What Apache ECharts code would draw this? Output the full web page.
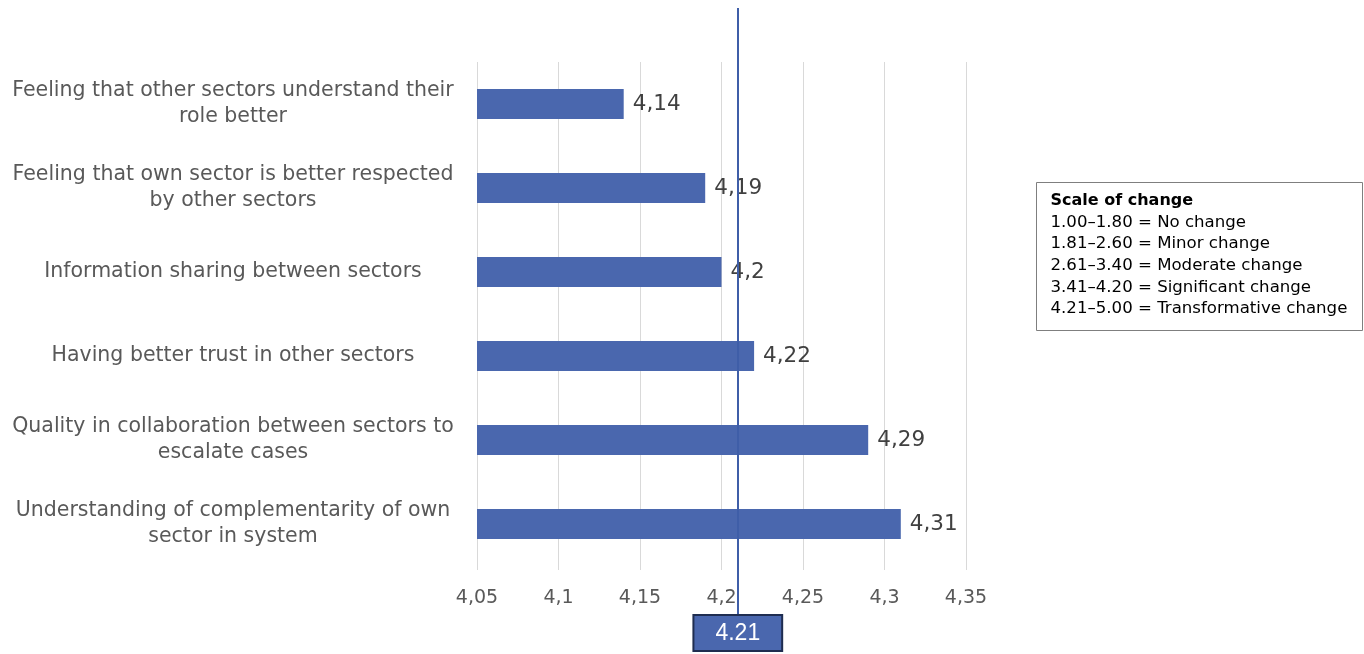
<!DOCTYPE html>
<html>
<head>
<meta charset="utf-8">
<script src="https://cdn.jsdelivr.net/npm/echarts@6/dist/echarts.min.js"></script>
<style>
  html, body { margin: 0; padding: 0; background: #fff; }
  #chart { width: 1364px; height: 654px; }
</style>
</head>
<body>
<div id="chart"></div>
<script>
const categories = [
  'Feeling that other sectors understand their\nrole better',
  'Feeling that own sector is better respected\nby other sectors',
  'Information sharing between sectors',
  'Having better trust in other sectors',
  'Quality in collaboration between sectors to\nescalate cases',
  'Understanding of complementarity of own\nsector in system'
];
const scores = [4.14, 4.19, 4.2, 4.22, 4.29, 4.31];
const overallMean = 4.21;
const axisMin = 4.05;
const axisMax = 4.35;
const axisStep = 0.05;
const scaleTitle = 'Scale of change';
const scaleLines = [
  '1.00–1.80 = No change',
  '1.81–2.60 = Minor change',
  '2.61–3.40 = Moderate change',
  '3.41–4.20 = Significant change',
  '4.21–5.00 = Transformative change'
];

const FONT = 'DejaVu Sans';
const commaNum = v => String(+(+v).toFixed(2)).replace('.', ',');

const chart = echarts.init(document.getElementById('chart'));

const option = {
  animation: false,
  textStyle: { fontFamily: FONT },
  grid: [
    { left: 477, right: 398, top: 62, bottom: 88 },
    { left: 477, right: 398, top: 8, bottom: 38 }
  ],
  xAxis: [
    {
      type: 'value',
      gridIndex: 0,
      min: axisMin,
      max: axisMax,
      interval: axisStep,
      axisLine: { show: false },
      axisTick: { show: true, length: 4, lineStyle: { color: '#d9d9d9' } },
      splitLine: { lineStyle: { color: '#d9d9d9', width: 1 } },
      axisLabel: {
        margin: 23,
        fontSize: 19,
        color: '#595959',
        fontFamily: FONT,
        formatter: commaNum
      }
    },
    {
      type: 'value',
      gridIndex: 1,
      min: axisMin,
      max: axisMax,
      show: false
    }
  ],
  yAxis: [
    {
      type: 'category',
      gridIndex: 0,
      inverse: true,
      data: categories,
      axisLine: { show: false },
      axisTick: { show: false },
      axisLabel: {
        margin: 21,
        align: 'right',
        color: '#595959',
        fontFamily: FONT,
        fontSize: 20.5,
        lineHeight: 26,
        formatter: v => v.split('\n').map(s => '{c|' + s + '}').join('\n'),
        rich: {
          c: { width: 446, align: 'center', fontSize: 20.5, lineHeight: 26, color: '#595959', fontFamily: FONT }
        }
      }
    },
    {
      type: 'value',
      gridIndex: 1,
      show: false
    }
  ],
  series: [
    {
      type: 'bar',
      xAxisIndex: 0,
      yAxisIndex: 0,
      data: scores,
      barWidth: 30,
      itemStyle: { color: '#4A67AE' },
      label: {
        show: true,
        position: 'right',
        distance: 9,
        fontSize: 21.5,
        color: '#404040',
        fontFamily: FONT,
        formatter: p => commaNum(p.value)
      }
    },
    {
      type: 'line',
      xAxisIndex: 1,
      yAxisIndex: 1,
      data: [],
      markLine: {
        silent: true,
        symbol: ['none', 'none'],
        lineStyle: { color: '#3F5EA8', width: 2, type: 'solid' },
        label: {
          show: true,
          position: 'start',
          distance: 0,
          formatter: () => String(overallMean),
          color: '#fff',
          fontSize: 23,
          fontFamily: 'Liberation Sans',
          backgroundColor: '#4A67AE',
          borderColor: '#1F2D50',
          borderWidth: 2,
          padding: [6, 21, 5, 21]
        },
        data: [{ xAxis: overallMean }]
      }
    }
  ],
  graphic: [
    {
      type: 'group',
      left: 1036,
      top: 182,
      children: [
        {
          type: 'rect',
          shape: { x: 0, y: 0, width: 326, height: 148 },
          style: { fill: '#fff', stroke: '#7f7f7f', lineWidth: 1 }
        },
        {
          type: 'text',
          x: 14,
          y: 10,
          style: { text: scaleTitle, font: 'bold 16px ' + FONT, fill: '#000' }
        }
      ].concat(scaleLines.map((t, i) => ({
        type: 'text',
        x: 14,
        y: 31.5 + i * 21.6,
        style: { text: t, font: '16.6px ' + FONT, fill: '#000' }
      })))
    }
  ]
};

chart.setOption(option);
window.addEventListener('resize', () => chart.resize());
</script>
</body>
</html>
